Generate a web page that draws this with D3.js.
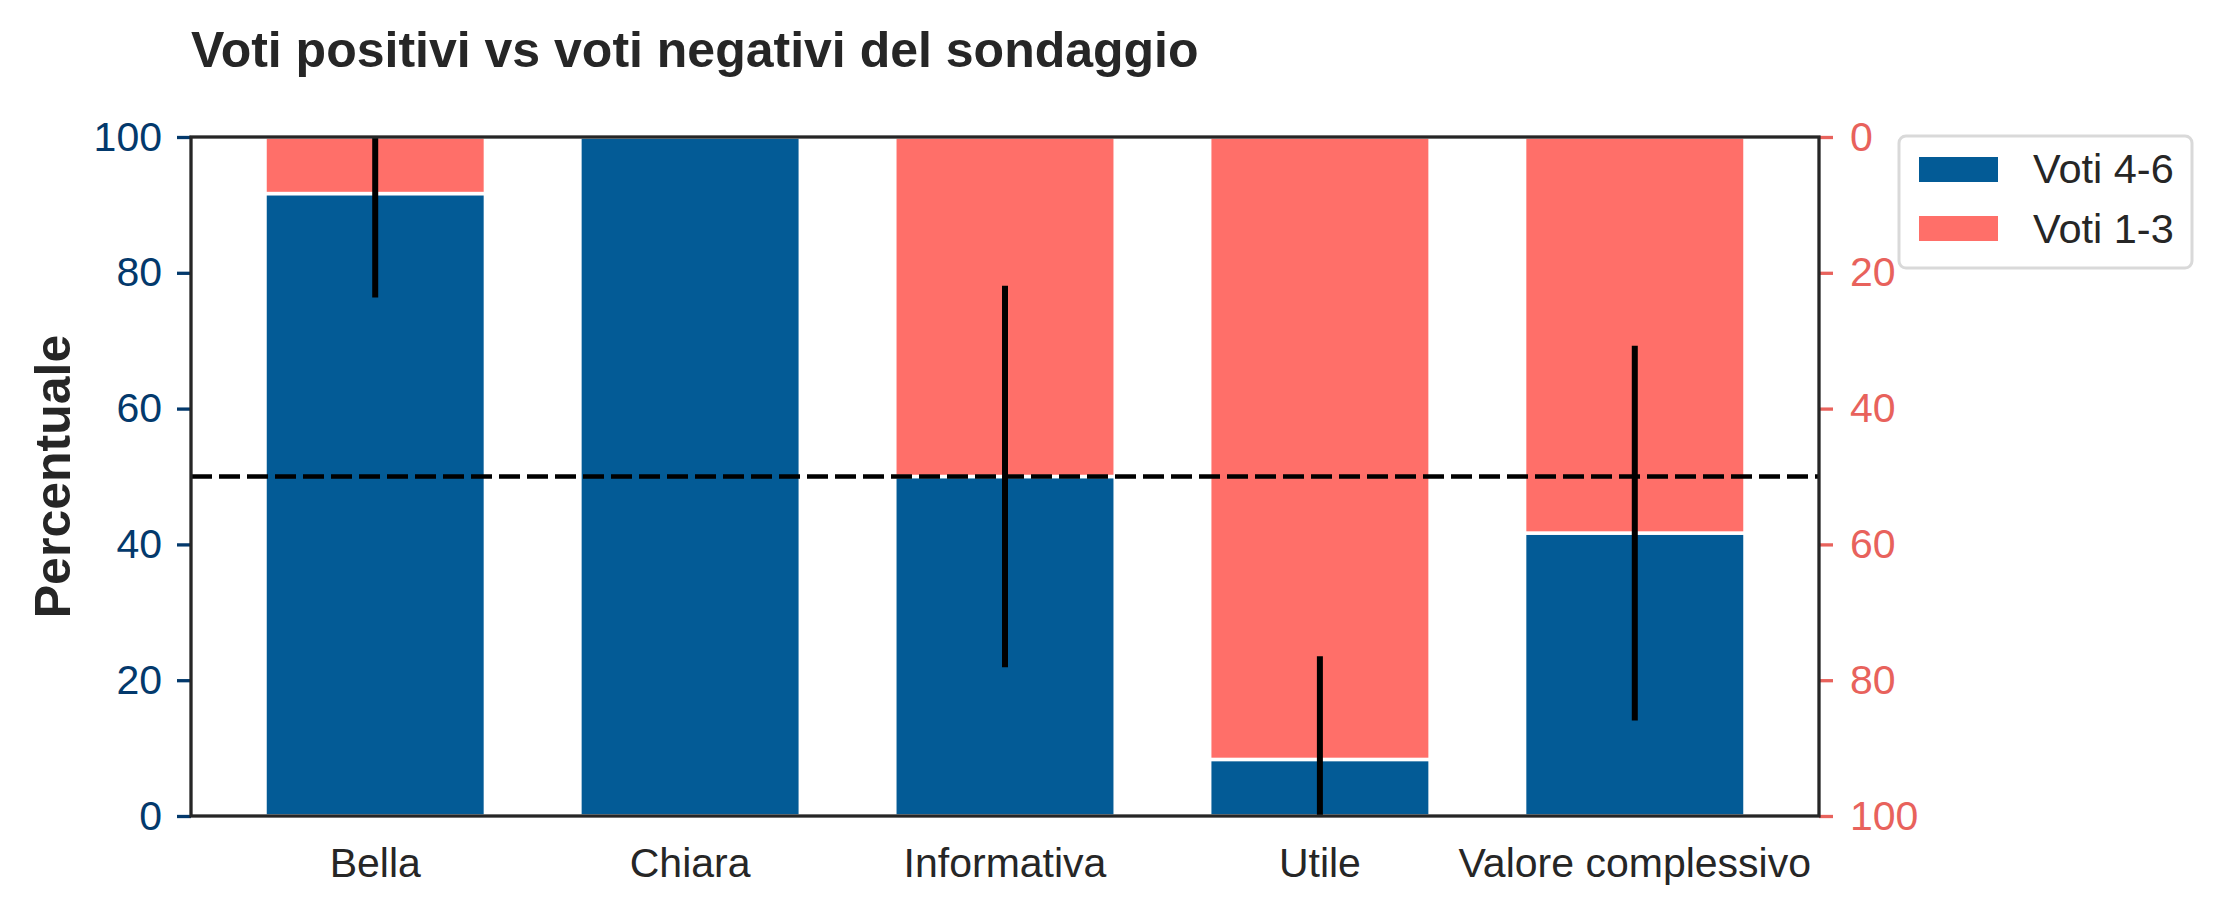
<!DOCTYPE html>
<html>
<head>
<meta charset="utf-8">
<script src="https://cdn.jsdelivr.net/npm/d3@7"></script>
<style>
  html, body { margin: 0; padding: 0; background: #ffffff; }
  svg { display: block; }
  text { font-family: "Liberation Sans", Arial, sans-serif; }
</style>
</head>
<body>
<svg id="chart" width="2221" height="914"></svg>
<script>
// ---- data ----
const categories = ["Bella", "Chiara", "Informativa", "Utile", "Valore complessivo"];
const positiveVotes = [91.67, 100, 50, 8.33, 41.67];   // Voti 4-6 (left axis)
const negativeVotes = [8.33, 0, 50, 91.67, 58.33];     // Voti 1-3 (right axis, inverted)
const errorValues = [15.3, 0, 28.1, 15.2, 27.6];
const leftTicks = [0, 20, 40, 60, 80, 100];
const rightTicks = [0, 20, 40, 60, 80, 100];
const thresholdValue = 50;
const seriesNames = ["Voti 4-6", "Voti 1-3"];
const titleText = "Voti positivi vs voti negativi del sondaggio";
const yLabelText = "Percentuale";

// ---- layout / style ----
const plot = { left: 191, right: 1819, top: 137, bottom: 816 };
const blue = "#035b96";
const red = "#ff6f69";
const leftTickColor = "#03396c";
const rightTickColor = "#e8625c";
const textColor = "#262626";
const tickFont = 41;

const svg = d3.select("#chart");

const x = d3.scaleBand()
  .domain(categories)
  .range([plot.left, plot.right])
  .paddingInner(0.3)
  .paddingOuter(0.235);

const yLeft = d3.scaleLinear().domain([0, 100]).range([plot.bottom, plot.top]);
const yRight = d3.scaleLinear().domain([0, 100]).range([plot.top, plot.bottom]);

svg.append("defs").append("clipPath").attr("id", "plotClip")
  .append("rect")
  .attr("x", plot.left).attr("y", plot.top)
  .attr("width", plot.right - plot.left).attr("height", plot.bottom - plot.top);

const g = svg.append("g").attr("clip-path", "url(#plotClip)");

// blue bars (left axis)
g.selectAll("rect.pos").data(categories).enter().append("rect")
  .attr("class", "pos")
  .attr("x", d => x(d))
  .attr("width", x.bandwidth())
  .attr("y", (d, i) => yLeft(positiveVotes[i]))
  .attr("height", (d, i) => yLeft(0) - yLeft(positiveVotes[i]))
  .attr("fill", blue)
  .attr("stroke", (d, i) => positiveVotes[i] > 0 ? "#ffffff" : "none")
  .attr("stroke-width", 3.5);

// red bars (right inverted axis)
g.selectAll("rect.neg").data(categories).enter().append("rect")
  .attr("class", "neg")
  .attr("x", d => x(d))
  .attr("width", x.bandwidth())
  .attr("y", yRight(0))
  .attr("height", (d, i) => yRight(negativeVotes[i]) - yRight(0))
  .attr("fill", red)
  .attr("stroke", (d, i) => negativeVotes[i] > 0 ? "#ffffff" : "none")
  .attr("stroke-width", 3.5);

// threshold dashed line
g.append("line")
  .attr("x1", plot.left).attr("x2", plot.right)
  .attr("y1", yLeft(thresholdValue)).attr("y2", yLeft(thresholdValue))
  .attr("stroke", "#000000")
  .attr("stroke-width", 4.5)
  .attr("stroke-dasharray", "21,7");

// error bars
g.selectAll("line.err").data(categories).enter()
  .filter((d, i) => errorValues[i] > 0)
  .append("line")
  .attr("class", "err")
  .attr("x1", d => x(d) + x.bandwidth() / 2)
  .attr("x2", d => x(d) + x.bandwidth() / 2)
  .attr("y1", d => { const i = categories.indexOf(d); return yLeft(positiveVotes[i] + errorValues[i]); })
  .attr("y2", d => { const i = categories.indexOf(d); return yLeft(positiveVotes[i] - errorValues[i]); })
  .attr("stroke", "#000000")
  .attr("stroke-width", 6);

// left axis
const leftAxis = d3.axisLeft(yLeft).tickValues(leftTicks).tickSize(14).tickPadding(15);
const gl = svg.append("g").attr("transform", `translate(${plot.left},0)`).call(leftAxis);
gl.select(".domain").remove();
gl.selectAll(".tick line").attr("stroke", leftTickColor).attr("stroke-width", 3.3);
gl.selectAll(".tick text").attr("fill", leftTickColor).attr("font-size", tickFont)
  .attr("font-family", "'Liberation Sans', Arial, sans-serif");

// right axis
const rightAxis = d3.axisRight(yRight).tickValues(rightTicks).tickSize(14).tickPadding(17);
const gr = svg.append("g").attr("transform", `translate(${plot.right},0)`).call(rightAxis);
gr.select(".domain").remove();
gr.selectAll(".tick line").attr("stroke", rightTickColor).attr("stroke-width", 3.3);
gr.selectAll(".tick text").attr("fill", rightTickColor).attr("font-size", tickFont)
  .attr("font-family", "'Liberation Sans', Arial, sans-serif");

// bottom axis (labels only)
const bottomAxis = d3.axisBottom(x).tickSize(0).tickPadding(32);
const gb = svg.append("g").attr("transform", `translate(0,${plot.bottom})`).call(bottomAxis);
gb.select(".domain").remove();
gb.selectAll(".tick text").attr("fill", textColor).attr("font-size", tickFont)
  .attr("font-family", "'Liberation Sans', Arial, sans-serif");

// frame (spines)
svg.append("rect")
  .attr("x", plot.left).attr("y", plot.top)
  .attr("width", plot.right - plot.left).attr("height", plot.bottom - plot.top)
  .attr("fill", "none").attr("stroke", textColor).attr("stroke-width", 3.3);

// title
svg.append("text")
  .attr("x", plot.left).attr("y", 67)
  .attr("font-size", 50).attr("font-weight", "bold").attr("fill", textColor)
  .text(titleText);

// y label
svg.append("text")
  .attr("transform", `translate(70,${(plot.top + plot.bottom) / 2}) rotate(-90)`)
  .attr("text-anchor", "middle")
  .attr("font-size", 50).attr("font-weight", "bold").attr("fill", textColor)
  .text(yLabelText);

// legend
const legend = svg.append("g");
legend.append("rect")
  .attr("x", 1899).attr("y", 136).attr("width", 293).attr("height", 132)
  .attr("rx", 7).attr("fill", "#ffffff").attr("stroke", "#d9d9d9").attr("stroke-width", 3);
const legendColors = [blue, red];
seriesNames.forEach((name, i) => {
  legend.append("rect")
    .attr("x", 1919).attr("y", 157 + i * 59).attr("width", 79).attr("height", 25)
    .attr("fill", legendColors[i]);
  legend.append("text")
    .attr("x", 2033).attr("y", 183 + i * 60)
    .attr("font-size", 41.5).attr("fill", textColor)
    .text(name);
});
</script>
</body>
</html>
